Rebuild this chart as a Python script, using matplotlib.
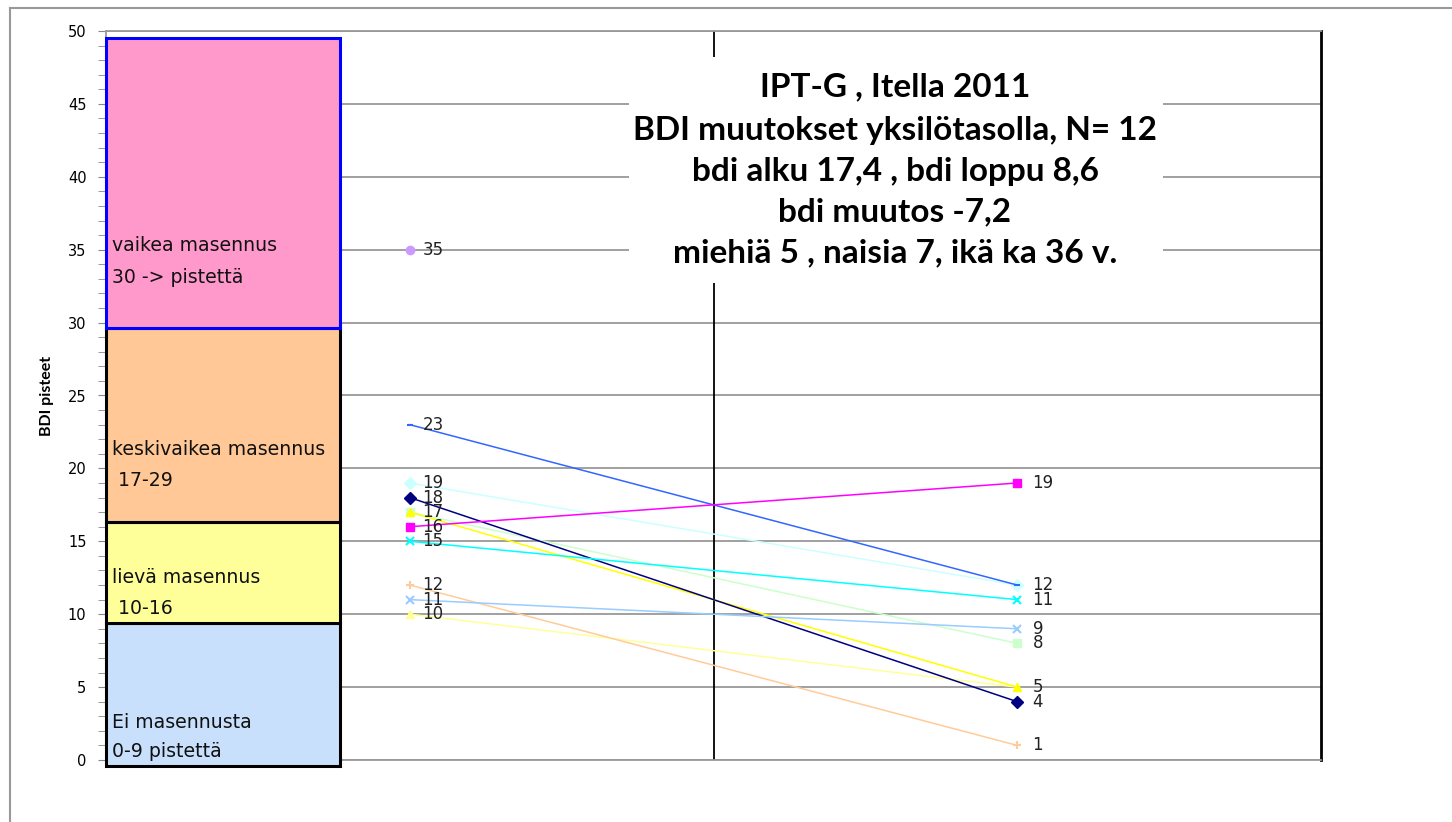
import numpy as np
import matplotlib.pyplot as plt
from matplotlib.patches import Rectangle
from matplotlib.lines import Line2D

## data
alku = [35, 19, 23, 17, 10, 17, 18, 16, 15, 12, 11]
loppu = [np.nan, 12, 12, 8, 5, 5, 4, 19, 11, 1, 9]
varit = ['#CC99FF', '#CCFFFF', '#3366FF', '#CCFFCC', '#FFFF99', '#FFFF00',
         '#000080', '#FF00FF', '#00FFFF', '#FFCC99', '#99CCFF']
merkit = ['o', 'D', '_', 's', '^', '^', 'D', 's', 'x', '+', 'x']

luokat = ['Ei masennusta', 'lievä masennus', 'keskivaikea masennus', 'vaikea masennus']
luokka_alaraja = [-0.4, 9.4, 16.3, 29.6]
luokka_ylaraja = [9.4, 16.3, 29.6, 49.5]
luokka_pisteet = ['0-9 pistettä', ' 10-16', ' 17-29', '30 -> pistettä']
luokka_varit = ['#C9E0FC', '#FFFF99', '#FFC896', '#FF99CC']
luokka_reunat = ['black', 'black', 'black', '#0000FF']
teksti_y = [(2.6, 0.55), (12.5, 10.4), (21.3, 19.2), (35.3, 33.1)]

otsikko = ['IPT-G , Itella 2011',
           'BDI muutokset yksilötasolla, N= 12',
           'bdi alku 17,4 , bdi loppu 8,6',
           'bdi muutos -7,2',
           'miehiä 5 , naisia 7, ikä ka 36 v.']

fig = plt.figure(figsize=(14.52, 8.22), dpi=100)
ax = fig.add_axes([106 / 1452, 1 - 760 / 822, (1321 - 106) / 1452, (760 - 31) / 822])

# outer chart frame
fig.add_artist(Line2D([10 / 1452, 10 / 1452], [0, 1 - 8 / 822], color='#999999', lw=1.5))
fig.add_artist(Line2D([10 / 1452, 1], [1 - 8 / 822, 1 - 8 / 822], color='#999999', lw=1.5))

ax.set_xlim(0.5, 2.5)
ax.set_ylim(0, 50)
ax.set_yticks(np.arange(0, 51, 5))
ax.set_yticks(np.arange(0, 51, 1), minor=True)
ax.set_xticks([])
ax.tick_params(axis='y', which='both', direction='out', length=6, color='#888888',
               labelsize=10.5, pad=8)
ax.grid(axis='y', color='#999999', lw=1.3, zorder=0)
ax.set_axisbelow(True)
for s in ['top', 'bottom', 'left']:
    ax.spines[s].set_color('#999999')
    ax.spines[s].set_linewidth(1.3)
ax.spines['right'].set_color('black')
ax.spines['right'].set_linewidth(2)
ax.set_ylabel('BDI pisteet', family='Lato', fontweight='bold', fontsize=11.5, labelpad=10)

# vertical line in the middle
ax.axvline(1.5, color='black', lw=1.3, zorder=1)

# severity boxes
laatikko_oikea = 0.5 + (340 - 106) / 607.5
for i in range(len(luokat)):
    ax.add_patch(Rectangle((0.5, luokka_alaraja[i]), laatikko_oikea - 0.5,
                           luokka_ylaraja[i] - luokka_alaraja[i],
                           facecolor=luokka_varit[i], edgecolor=luokka_reunat[i],
                           lw=2.2, zorder=3, clip_on=False))
    ax.text(0.51, teksti_y[i][0], luokat[i], fontsize=13.6, va='center', zorder=4, color='#111111')
    ax.text(0.51, teksti_y[i][1], luokka_pisteet[i], fontsize=13.6, va='center', zorder=4, color='#111111')

# individual lines
for a, l, c, m in zip(alku, loppu, varit, merkit):
    ax.plot([1, 2], [a, l], color=c, lw=1.1, marker=m, markersize=6 if m != '_' else 5,
            markeredgewidth=1.5 if m in ['x', '+', '_'] else 1, zorder=5, clip_on=False)

for v in sorted(set(alku)):
    ax.annotate(str(v), (1, v), xytext=(9, 0), textcoords='offset points',
                va='center', fontsize=12, color='#222222', zorder=6)
for v in sorted(set([x for x in loppu if not np.isnan(x)])):
    ax.annotate(str(int(v)), (2, v), xytext=(11, 0), textcoords='offset points',
                va='center', fontsize=12, color='#222222', zorder=6)

# title box
ax.add_patch(Rectangle((0.5 + (629 - 106) / 607.5, 50 - (283 - 31) / 14.58),
                       (1163 - 629) / 607.5, (283 - 57) / 14.58,
                       facecolor='white', edgecolor='none', zorder=7))
rivi_y = [87, 130, 171, 212, 253]
for t, y in zip(otsikko, rivi_y):
    ax.text(0.5 + (895 - 106) / 607.5, 50 - (y - 31) / 14.58, t, family='Lato',
            fontweight='bold', fontsize=24, ha='center', va='center', zorder=8)

plt.savefig('out.png', dpi=100)
